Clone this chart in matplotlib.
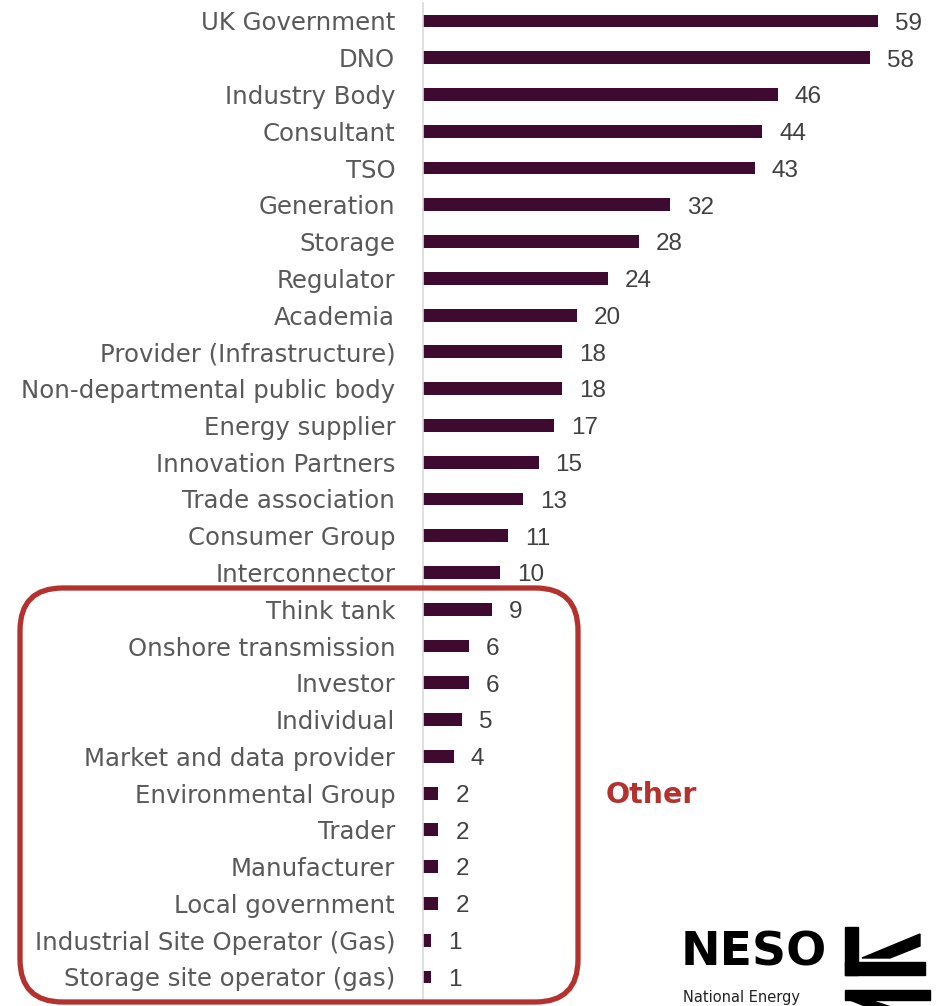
import matplotlib.pyplot as plt
from matplotlib.patches import FancyBboxPatch, Polygon

# stakeholder categories and response counts
categories = ["UK Government", "DNO", "Industry Body", "Consultant", "TSO",
              "Generation", "Storage", "Regulator", "Academia",
              "Provider (Infrastructure)", "Non-departmental public body",
              "Energy supplier", "Innovation Partners", "Trade association",
              "Consumer Group", "Interconnector", "Think tank",
              "Onshore transmission", "Investor", "Individual",
              "Market and data provider", "Environmental Group", "Trader",
              "Manufacturer", "Local government",
              "Industrial Site Operator (Gas)", "Storage site operator (gas)"]
counts = [59, 58, 46, 44, 43, 32, 28, 24, 20, 18, 18, 17, 15, 13, 11, 10,
          9, 6, 6, 5, 4, 2, 2, 2, 2, 1, 1]

W, H = 948, 1006
bar_color = "#3f0a30"
red = "#b3322e"


def fx(px):
    return px / W


def fy(py):
    return 1 - py / H


fig = plt.figure(figsize=(W / 100, H / 100), dpi=100)
ax = fig.add_axes([fx(423), 0, 1 - fx(423), 1])

y = list(range(len(categories)))
ax.barh(y, counts, height=0.35, color=bar_color)
for i, v in enumerate(counts):
    ax.text(v + 2.2, i + 0.24, str(v), va="baseline", ha="left",
            fontsize=17.5, color="#404040", family="Liberation Sans")

ax.set_xlim(0, (W - 423) / 7.71)
ax.set_ylim(26.79, -0.571)
ax.set_yticks(y)
ax.set_yticklabels(categories, fontsize=17.6, color="#595959",
                   family="DejaVu Sans")
ax.tick_params(axis="y", length=0, pad=20)
ax.set_xticks([])
for s in ["top", "right", "bottom"]:
    ax.spines[s].set_visible(False)
ax.spines["left"].set_color("#d9d9d9")
ax.spines["left"].set_linewidth(1.2)
ax.spines["left"].set_bounds(27.1 - 0.4, -0.5)

# "Other" group box
box = FancyBboxPatch((fx(20), 4 / H), 558 / W, 414 / H,
                     boxstyle="round,pad=0,rounding_size=0.045",
                     transform=fig.transFigure, fill=False,
                     edgecolor=red, linewidth=3.8, mutation_aspect=W / H)
fig.patches.append(box)
fig.text(fx(606), fy(795), "Other", fontsize=20.5, fontweight="bold",
         color=red, va="center", ha="left", family="DejaVu Sans")

# logo
fig.text(fx(681), fy(965), "NESO", fontsize=34, fontweight="bold",
         color="black", va="baseline", ha="left", family="DejaVu Sans")
fig.text(fx(683), fy(1005), "National Energy", fontsize=10.5,
         color="#222222", va="bottom", ha="left", family="DejaVu Sans")
shapes = [
    [(845, 927), (858, 927), (858, 975), (845, 975)],
    [(845, 962), (925, 962), (925, 975), (845, 975)],
    [(862, 958), (920, 934), (920, 946), (890, 958)],
    [(845, 990), (930, 990), (930, 1000), (845, 1000)],
    [(850, 1000), (870, 1000), (930, 1020), (900, 1020)],
]
for pts in shapes:
    fig.patches.append(Polygon([(fx(a), fy(b)) for a, b in pts], closed=True,
                               transform=fig.transFigure, color="black"))

fig.savefig("out.png", dpi=100)
